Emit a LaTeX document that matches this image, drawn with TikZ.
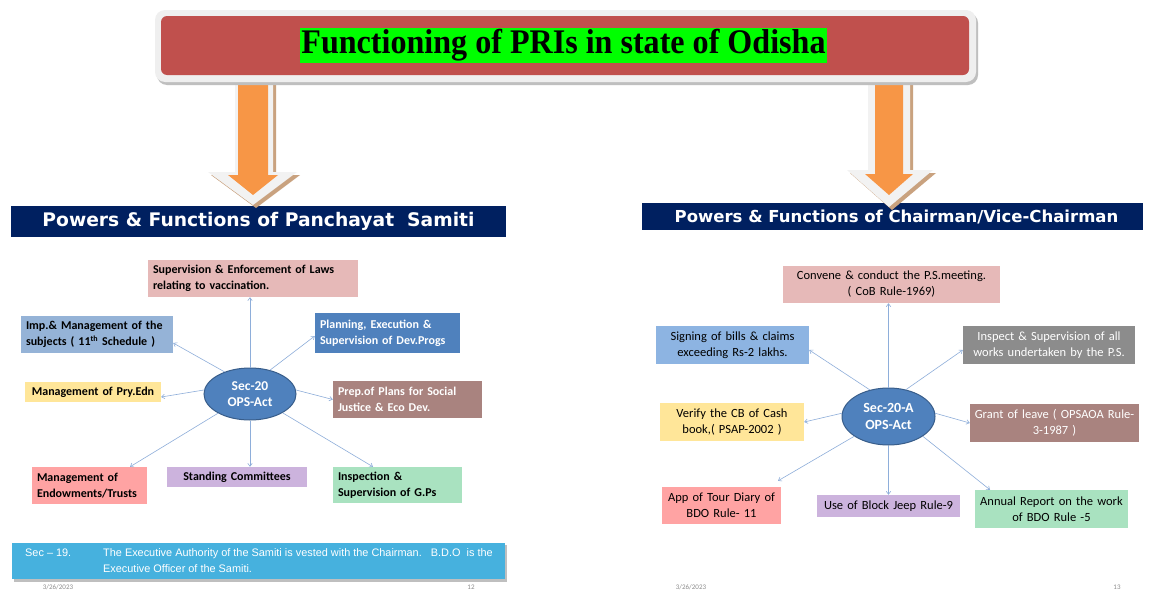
\documentclass[tikz,border=0pt]{standalone}
\usepackage{graphicx}
\usepackage{fontspec}
\setmainfont{Liberation Serif}
\newfontfamily\carl{Carlito}
\newfontfamily\dvs{DejaVu Sans}
\newfontfamily\libs{Liberation Sans}
\usetikzlibrary{arrows.meta,shapes.geometric}
\definecolor{navy}{HTML}{002060}
\definecolor{titlered}{HTML}{C0504D}
\definecolor{titlegreen}{HTML}{00FF00}
\definecolor{framegray}{HTML}{EFEFEF}
\definecolor{shadowgray}{HTML}{BFBFBF}
\definecolor{arroworange}{HTML}{F79646}
\definecolor{arrowwhite}{HTML}{F2F2F2}
\definecolor{arrowshadow}{HTML}{C9A27F}
\definecolor{pinkc}{HTML}{E6B9B8}
\definecolor{lblue}{HTML}{95B3D7}
\definecolor{lblueb}{HTML}{8DB4E2}
\definecolor{bluec}{HTML}{4F81BD}
\definecolor{bluecd}{HTML}{385D8A}
\definecolor{yellowc}{HTML}{FFE699}
\definecolor{rosyc}{HTML}{A9837F}
\definecolor{salmonc}{HTML}{FFA3A3}
\definecolor{lavc}{HTML}{CCB3DD}
\definecolor{greenc}{HTML}{A9E2C0}
\definecolor{grayc}{HTML}{8C8C8C}
\definecolor{secblue}{HTML}{46B1DE}
\definecolor{connblue}{HTML}{8EAEDA}
\definecolor{footgray}{HTML}{8C8C8C}
\begin{document}
\begin{tikzpicture}[x=1pt,y=-1pt,
  box/.style={rectangle, inner xsep=5pt, inner ysep=0pt},
  lt/.style={font=\carl\bfseries\fontsize{12}{16}\selectfont},
  rt/.style={font=\carl\fontsize{12.5}{16}\selectfont},
  ell/.style={ellipse, fill=bluec, draw=bluecd, line width=1pt, inner sep=0pt, text=white, align=center},
  conn/.style={draw=connblue, line width=0.6pt, -{Straight Barb[length=3pt,width=4.5pt]}},
  foot/.style={font=\carl\fontsize{7}{8}\selectfont, text=footgray, inner sep=0pt}
]
\useasboundingbox (0,0) rectangle (1150,589);
\fill[white] (0,0) rectangle (1150,589);

% header bars
\node[fill=navy, minimum width=495pt, minimum height=31pt, inner sep=0pt, text=white,
      font=\dvs\bfseries\fontsize{18.7}{22}\selectfont] (lhead) at (258.5,221.5) {Powers \& Functions of Panchayat\ \ Samiti};
\node[fill=navy, minimum width=501pt, minimum height=27pt, inner sep=0pt, text=white,
      font=\dvs\bfseries\fontsize{16.5}{20}\selectfont] (rhead) at (892.5,216.5) {\hspace*{8pt}Powers \& Functions of Chairman/Vice-Chairman};

% block arrows
\fill[arrowshadow] (238,78) -- (276,78) -- (276,175) -- (300,175) -- (256,208) -- (211,175) -- (238,175) -- cycle;
\fill[arrowwhite] (235,75) -- (273,75) -- (273,172) -- (297,172) -- (253,205) -- (208,172) -- (235,172) -- cycle;
\fill[arroworange] (238,75) -- (268,75) -- (268,175) -- (278,175) -- (253,195) -- (228,175) -- (238,175) -- cycle;

\fill[arrowshadow] (871,78) -- (913,78) -- (913,173) -- (936,173) -- (892,210) -- (850,173) -- (871,173) -- cycle;
\fill[arrowwhite] (868,75) -- (910,75) -- (910,170) -- (933,170) -- (889,207) -- (847,170) -- (868,170) -- cycle;
\fill[arroworange] (875,75) -- (903,75) -- (903,174) -- (913,174) -- (889,195) -- (865,174) -- (875,174) -- cycle;

% title frame
\fill[shadowgray, rounded corners=10pt] (157,13) rectangle (978,85);
\fill[framegray, rounded corners=10pt] (155,10) rectangle (976,82);
\fill[titlered, rounded corners=6pt] (161,16) rectangle (969,75);
\node[fill=titlegreen, minimum width=527pt, minimum height=35pt, inner sep=0pt] (title) at (563.5,45)
  {\scalebox{0.93}[1]{\fontsize{34.5}{40}\selectfont\bfseries Functioning of PRIs in state of Odisha}};

% left diagram
\node[box, lt, fill=pinkc, minimum height=37pt, text width=200pt, align=left] (ltop) at (253,278.5)
  {Supervision \& Enforcement of Laws\\relating to vaccination.};
\node[box, lt, fill=lblue, minimum height=37pt, text width=142pt, align=left] (limp) at (97,334.5)
  {Imp.\& Management of the\\subjects ( 11\textsuperscript{th} Schedule )};
\node[box, lt, fill=bluec, text=white, minimum height=40pt, text width=135pt, align=left] (lplan) at (387.5,333)
  {Planning, Execution \&\\Supervision of Dev.Progs};
\node[box, lt, fill=yellowc, minimum height=20pt, text width=126pt, align=center] (lpry) at (93,392)
  {Management of Pry.Edn};
\node[box, lt, fill=rosyc, text=white, minimum height=37pt, text width=139pt, align=left] (lprep) at (407.5,399.5)
  {Prep.of Plans for Social\\Justice \& Eco Dev.};
\node[box, lt, fill=salmonc, minimum height=37pt, text width=105pt, align=left] (lendow) at (89.5,485.5)
  {Management of\\Endowments/Trusts};
\node[box, lt, fill=lavc, minimum height=20pt, text width=130pt, align=center] (lstand) at (237,477)
  {Standing Committees};
\node[box, lt, fill=greenc, minimum height=36pt, text width=119pt, align=left] (linsp) at (397.5,485)
  {Inspection \&\\Supervision of G.Ps};
\node[ell, minimum width=92pt, minimum height=52pt, font=\carl\bfseries\fontsize{13.5}{16.5}\selectfont] (e1) at (250,394)
  {Sec-20\\OPS-Act};

\draw[conn] (e1.north) -- (ltop.south -| e1.north);
\draw[conn] (e1.139) -- ([yshift=-8.5pt]limp.east);
\draw[conn] (e1.50) -- ([yshift=-3pt]lplan.west);
\draw[conn] (e1.175) -- ([yshift=-5pt]lpry.east);
\draw[conn] (e1.5) -- (lprep.west);
\draw[conn] (e1.211) -- ([xshift=40.5pt]lendow.north);
\draw[conn] (e1.south) -- (lstand.north -| e1.south);
\draw[conn] (e1.330) -- ([xshift=-24.5pt]linsp.north);

% footers
\node[foot] (fl) at (58,587) {3/26/2023};
\node[foot] (fl2) at (471,587) {12};
\node[foot] (fr) at (691,587) {3/26/2023};
\node[foot] (fr2) at (1117,587) {13};

% Sec-19 bar
\fill[shadowgray] (14,545) rectangle (507,582);
\node[fill=secblue, minimum width=493pt, minimum height=36pt, inner sep=0pt] (sec19) at (258.5,561) {};
\node[anchor=west, inner sep=0pt, text=white, font=\libs\fontsize{10.9}{16}\selectfont] (s19a) at (25,553) {Sec – 19.};
\node[anchor=west, inner sep=0pt, text=white, align=left, font=\libs\fontsize{10.9}{16}\selectfont] (s19b) at (103,561)
  {The Executive Authority of the Samiti is vested with the Chairman.\ \ \ B.D.O\ \ is the\\Executive Officer of the Samiti.};

% right diagram
\node[box, rt, fill=pinkc, minimum height=37pt, text width=207pt, align=center] (rconv) at (891.5,284.5)
  {Convene \& conduct the P.S.meeting.\\( CoB Rule-1969)};
\node[box, rt, fill=lblueb, minimum height=38pt, text width=143pt, align=center] (rsign) at (732.5,345)
  {Signing of bills \& claims\\exceeding Rs-2 lakhs.};
\node[box, rt, fill=grayc, text=white, minimum height=38pt, text width=162pt, align=center] (rinsp) at (1049,345)
  {Inspect \& Supervision of all\\works undertaken by the P.S.};
\node[box, rt, fill=yellowc, minimum height=38pt, text width=134pt, align=center] (rver) at (732,422)
  {Verify the CB of Cash\\book,( PSAP-2002 )};
\node[box, rt, fill=rosyc, text=white, minimum height=38pt, inner xsep=1pt, text width=167pt, align=center] (rgrant) at (1054.5,423)
  {\mbox{Grant of leave ( OPSAOA Rule-}\\3-1987 )};
\node[box, rt, fill=salmonc, minimum height=37pt, text width=109pt, align=center] (rapp) at (721.5,505.5)
  {App of Tour Diary of\\BDO Rule- 11};
\node[box, rt, fill=lavc, minimum height=22pt, text width=133pt, align=center] (rjeep) at (888.5,506)
  {Use of Block Jeep Rule-9};
\node[box, rt, fill=greenc, minimum height=38pt, text width=143pt, align=center] (rann) at (1051.5,509)
  {Annual Report on the work\\of BDO Rule -5};
\node[ell, minimum width=93pt, minimum height=57pt, font=\carl\bfseries\fontsize{14}{17}\selectfont] (e2) at (888.5,416.5)
  {Sec-20-A\\OPS-Act};

\draw[conn] (e2.north) -- (rconv.south -| e2.north);
\draw[conn] (e2.125) -- ([yshift=-5pt]rsign.east);
\draw[conn] (e2.57) -- ([yshift=-5pt]rinsp.west);
\draw[conn] (e2.176) -- (rver.east);
\draw[conn] (e2.4) -- (rgrant.west);
\draw[conn] (e2.210) -- ([xshift=56.5pt,yshift=6pt]rapp.north);
\draw[conn] (e2.south) -- (rjeep.north -| e2.south);
\draw[conn] (e2.330) -- ([xshift=-61.5pt]rann.north);
\end{tikzpicture}
\end{document}
